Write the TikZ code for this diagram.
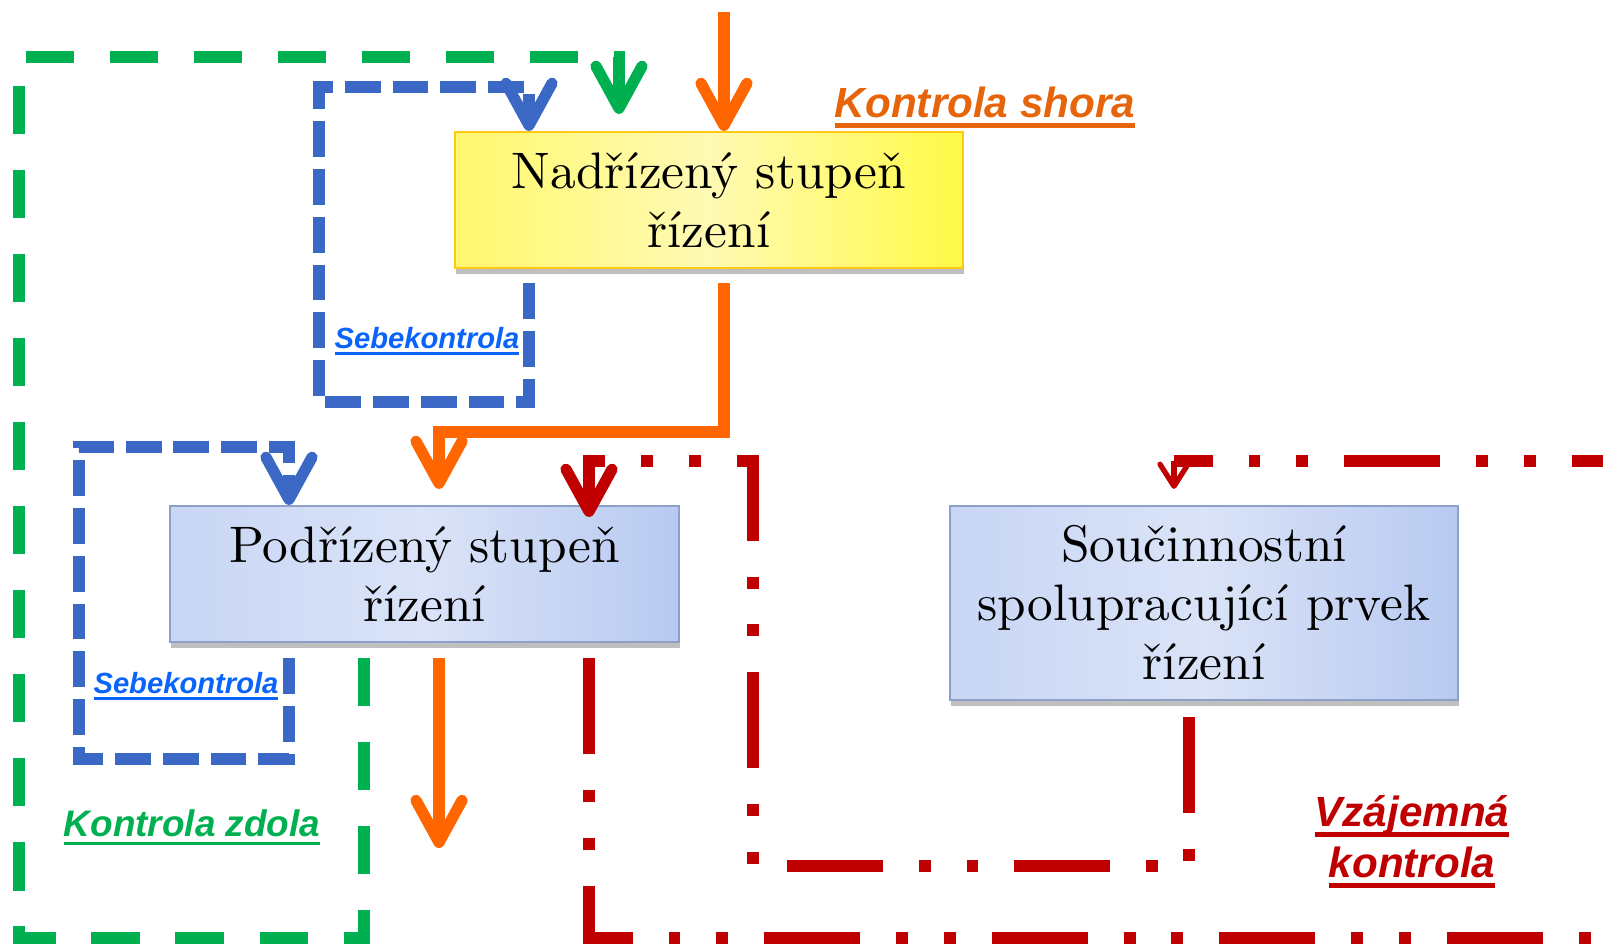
\documentclass[tikz,border=0pt]{standalone}
\usepackage{fontspec}
\usetikzlibrary{arrows.meta,shadows}

\newfontfamily\labelsans{Liberation Sans}
\newfontfamily\boxfont{lmroman10-regular.otf}
\newsavebox{\podtrhbox}
\newcommand{\podtrh}[1]{\sbox{\podtrhbox}{#1}\rlap{\rule[-0.25em]{\wd\podtrhbox}{0.1em}}\usebox{\podtrhbox}}

\definecolor{korange}{RGB}{255,102,0}
\definecolor{kgreen}{RGB}{0,176,80}
\definecolor{kblue}{RGB}{58,104,196}
\definecolor{kred}{RGB}{192,0,0}
\definecolor{shoratext}{RGB}{230,100,10}
\definecolor{sebetext}{RGB}{10,100,250}
\definecolor{boxgold}{RGB}{255,200,20}
\definecolor{boxedge}{RGB}{140,160,200}
\definecolor{yelleft}{RGB}{255,248,110}
\definecolor{yelmid}{RGB}{255,250,180}
\definecolor{yelright}{RGB}{255,250,70}
\definecolor{bluleft}{RGB}{200,214,245}
\definecolor{blumid}{RGB}{218,227,247}
\definecolor{bluright}{RGB}{184,202,241}

\begin{document}
\begin{tikzpicture}[
        x=0.01cm, y=-0.01cm,
        box/.style={rectangle, draw, line width=0.6pt, minimum width=5.08cm, minimum height=1.36cm,
            align=center, inner sep=0pt, font=\boxfont\fontsize{14.6}{16.8}\selectfont,
            drop shadow={shadow xshift=0.3pt, shadow yshift=-1.8pt, opacity=0.25, fill=black}},
        yellowbox/.style={box, draw=boxgold, left color=yelleft, right color=yelright, middle color=yelmid},
        bluebox/.style={box, draw=boxedge, left color=bluleft, right color=bluright, middle color=blumid},
        popis/.style 2 args={anchor=base, inner sep=0pt, align=center,
            font={\labelsans\fontsize{#1}{#2}\selectfont\bfseries\itshape}},
        flow/.style={line width=3.2pt},
        tip/.style={-{Straight Barb[length=4.2mm, width=4.6mm, round]}},
        orangearrow/.style={flow, draw=korange, tip},
        greenarrow/.style={flow, draw=kgreen, tip, dash pattern=on 13.7pt off 10.2pt},
        bluearrow/.style={flow, draw=kblue, tip, dash pattern=on 10.2pt off 3.4pt},
        redline/.style={flow, draw=kred, dash pattern=on 27.3pt off 10.2pt on 3.4pt off 10.2pt on 3.4pt off 10.2pt},
        redarrow/.style={redline, tip},
        redthin/.style={draw=kred, line width=1.5pt, -{Straight Barb[length=2.2mm, width=2.8mm, round]}}
        ]
    \useasboundingbox (0,0) rectangle (1603,947);
    \clip (0,0) rectangle (1603,947);

    % Boxes
    \node[yellowbox] (nadrizeny) at (709,200) {Nadřízený stupeň\\řízení};
    \node[bluebox] (podrizeny) at (424.5,574) {Podřízený stupeň\\řízení};
    \node[bluebox, minimum height=1.94cm] (soucinnost) at (1204,603) {Součinnostní\\spolupracující prvek\\řízení};

    % Bends of the connectors
    \coordinate (vstup) at (724,12);
    \coordinate (ohyb) at (439,432);
    \coordinate (vystup) at (439,848);
    \coordinate (zl) at (19,938);
    \coordinate (zr) at (364,938);
    \coordinate (zh) at (619,57);
    \coordinate (s1a) at (319,402);
    \coordinate (s1b) at (529,87);
    \coordinate (s2a) at (79,759);
    \coordinate (s2b) at (289,447);
    \coordinate (va) at (589,938);
    \coordinate (vb) at (1660,461);
    \coordinate (vc) at (1174,461);
    \coordinate (vd) at (1189,866);
    \coordinate (ve) at (753,461);

    % Kontrola shora
    \draw[orangearrow] (vstup) -- (vstup |- nadrizeny.north);
    \draw[orangearrow, shorten <=0.14cm, shorten >=0.16cm] (vstup |- nadrizeny.south) |- (ohyb) -- (ohyb |- podrizeny.north);
    \draw[orangearrow, shorten <=0.15cm] (vystup |- podrizeny.south) -- (vystup);

    % Kontrola zdola
    \draw[greenarrow, shorten <=0.15cm, shorten >=0.17cm] (zr |- podrizeny.south) -- (zr) -- (zl) |- (zh) -- (zh |- nadrizeny.north);

    % Sebekontrola
    \draw[bluearrow, shorten <=0.14cm] (s1b |- nadrizeny.south) |- (s1a) |- (s1b) -- (s1b |- nadrizeny.north);
    \draw[bluearrow, shorten <=0.15cm] (s2b |- podrizeny.south) |- (s2a) |- (s2b) -- (s2b |- podrizeny.north);

    % Vzajemna kontrola
    \draw[redline, shorten <=0.15cm] (va |- podrizeny.south) -- (va) -| (vb) -- (vc);
    \draw[redthin, shorten >=0.16cm] (vc) -- (vc |- soucinnost.north);
    \draw[redarrow, shorten <=0.16cm, shorten >=-0.12cm] (vd |- soucinnost.south) -- (vd) -| (ve) -| (va |- podrizeny.north);

    % Labels
    \node[popis={12pt}{14.5pt}, text=shoratext] (shora) at (985,117) {\podtrh{Kontrola shora}};
    \node[popis={8.3pt}{10pt}, text=sebetext] (sebe1) at (427,348) {\podtrh{Sebekontrola}};
    \node[popis={8.3pt}{10pt}, text=sebetext] (sebe2) at (186,693) {\podtrh{Sebekontrola}};
    \node[popis={10.5pt}{13pt}, text=kgreen] (zdola) at (192,836) {\podtrh{Kontrola zdola}};
    \node[popis={12pt}{14.5pt}, text=kred] (vzajemna) at (1412,877) {\podtrh{Vzájemná}\\\podtrh{kontrola}};
\end{tikzpicture}
\end{document}
